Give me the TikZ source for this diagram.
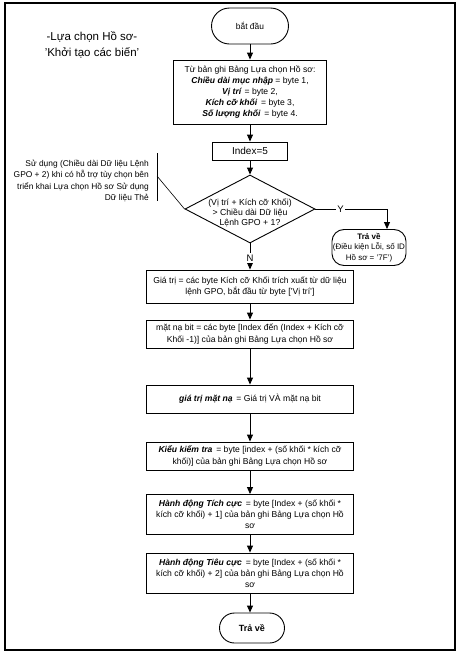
\documentclass[tikz,border=0pt]{standalone}
\usepackage{fontspec}
\setmainfont{Liberation Sans}
\usetikzlibrary{arrows.meta, shapes.geometric}

\begin{document}
\begin{tikzpicture}
        [x=1pt, y=-1pt,
        box/.style={rectangle, draw, line width=0.9pt, inner sep=1pt, align=center, font=\fontsize{8.6}{11.2}\selectfont},
        term/.style={rectangle, draw, line width=0.9pt, inner sep=1pt, align=center, font=\fontsize{8.4}{10.5}\selectfont},
        decision/.style={diamond, draw, line width=0.9pt, inner sep=0pt, minimum width=130pt, minimum height=68pt},
        flow/.style={line width=0.9pt, -{Triangle[length=7pt, width=6pt]}},
        yn/.style={fill=white, inner sep=1.5pt, font=\fontsize{9.5}{9.5}\selectfont},
        note/.style={align=right, inner sep=0pt, font=\fontsize{8.4}{11.5}\selectfont},
        frame/.style={line width=1.3pt}]

        \useasboundingbox (0,0) rectangle (460,654);
        \draw[frame] (5,3) rectangle (455,650);

        % title at the top left
        \node[align=center, font=\fontsize{11.5}{16}\selectfont] (title) at (92,45)
            {-Lựa chọn Hồ sơ-\\'Khởi tạo các biến'};

        % main flow
        \node[term, rounded corners=18pt, minimum width=77pt, minimum height=36pt] (start) at (250,26) {bắt đầu};
        \node[box, minimum width=153pt, minimum height=64pt] (init) at (250,92)
            {Từ bản ghi Bảng Lựa chọn Hồ sơ:\\
             \textbf{\textit{Chiều dài mục nhập}} = byte 1,\\
             \textbf{\textit{Vị trí}} = byte 2,\\
             \textbf{\textit{Kích cỡ khối}}\, = byte 3,\\
             \textbf{\textit{Số lượng khối}}\, = byte 4.};
        \node[box, minimum width=75pt, minimum height=18pt, font=\fontsize{10}{10}\selectfont] (index) at (250,151) {Index=5};
        \node[decision] (check) at (250,209) {};
        \node[align=center, inner sep=0pt, font=\fontsize{8.7}{10.3}\selectfont] (checktext) at (250,213)
            {(Vị trí + Kích cỡ Khối)\\> Chiều dài Dữ liệu\\Lệnh GPO + 1?};
        \node[term, rounded corners=12pt, minimum width=70pt, minimum height=36pt, font=\fontsize{8}{10.5}\selectfont] (error) at (369,247.5)
            {\textbf{Trả về}\\(Điều kiện Lỗi, số ID\\Hồ sơ = '7F')};
        \node[box, minimum width=207pt, minimum height=33pt] (value) at (250,286.5)
            {Giá trị = các byte Kích cỡ Khối trích xuất từ dữ liệu\\lệnh GPO, bắt đầu từ byte ['Vị trí']};
        \node[box, minimum width=207pt, minimum height=28pt] (mask) at (250,334)
            {mặt nạ bit = các byte [Index đến (Index + Kích cỡ\\Khối -1)] của bản ghi Bảng Lựa chọn Hồ sơ};
        \node[box, minimum width=207pt, minimum height=28pt] (masked) at (250,399)
            {\textbf{\textit{giá trị mặt nạ}}\, = Giá trị VÀ mặt nạ bit};
        \node[box, minimum width=207pt, minimum height=28pt] (type) at (250,456)
            {\textbf{\textit{Kiểu kiểm tra}}\, = byte [index + (số khối * kích cỡ\\khối)] của bản ghi Bảng Lựa chọn Hồ sơ};
        \node[box, minimum width=207pt, minimum height=40pt] (pos) at (250,514.5)
            {\textbf{\textit{Hành động Tích cực}}\, = byte [Index + (số khối *\\kích cỡ khối) + 1] của bản ghi Bảng Lựa chọn Hồ\\sơ};
        \node[box, minimum width=207pt, minimum height=40pt] (neg) at (250,573)
            {\textbf{\textit{Hành động Tiêu cực}}\, = byte [Index + (số khối *\\kích cỡ khối) + 2] của bản ghi Bảng Lựa chọn Hồ\\sơ};
        \node[term, rounded corners=15pt, minimum width=65pt, minimum height=30pt, font=\fontsize{9}{10}\selectfont] (stop) at (252,628) {\textbf{Trả về}};

        % note on the decision
        \node[note, anchor=east] (usage) at (149,181)
            {Sử dụng (Chiều dài Dữ liệu Lệnh\\GPO + 2) khi có hỗ trợ tùy chọn bên\\triển khai Lựa chọn Hồ sơ Sử dụng\\Dữ liệu Thẻ};
        \coordinate (brtop) at (157,153);
        \coordinate (brbot) at (157,201);
        \coordinate (brmid) at (157,176);
        \draw[line width=0.6pt] (brtop) -- (brbot);
        \draw[line width=0.6pt] (brmid) -- (check.west);

        % arrows
        \draw[flow] (start) -- (init);
        \draw[flow] (init) -- (index);
        \draw[flow] (index) -- (check);
        \draw[flow] (check.south) -- node[yn, pos=0.55] {N} (value.north);
        \draw[flow] (value) -- (mask);
        \draw[flow] (mask) -- (masked);
        \draw[flow] (masked) -- (type);
        \draw[flow] (type) -- (pos);
        \draw[flow] (pos) -- (neg);
        \draw[flow] (neg) -- (stop.north -| neg.south);

        \coordinate (yturn) at (387,209);
        \draw[line width=0.9pt] (check.east) -- node[yn, pos=0.35] {Y} (yturn);
        \draw[flow] (yturn) -- (yturn |- error.north);

    \end{tikzpicture}
\end{document}
